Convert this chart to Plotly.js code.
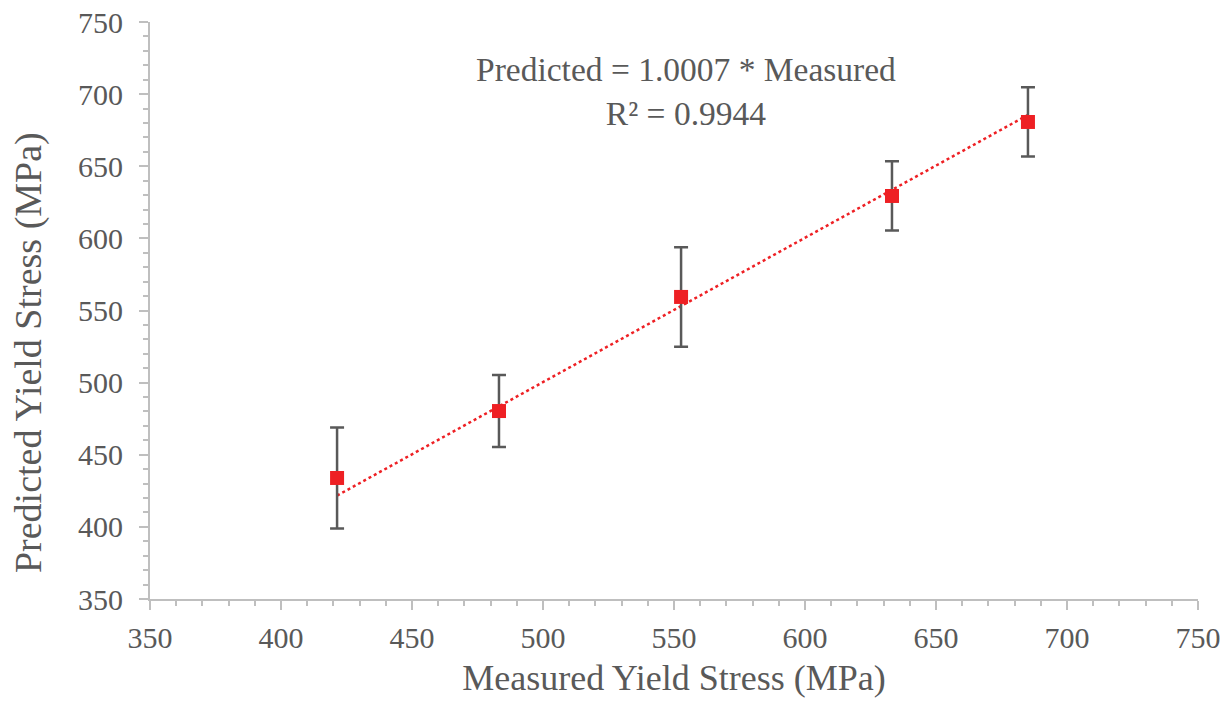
<!DOCTYPE html>
<html>
<head>
<meta charset="utf-8">
<script src="https://cdn.plot.ly/plotly-3.0.1.min.js"></script>
<style>html,body{margin:0;padding:0;background:#fff;}#chart{width:1230px;height:702px;}</style>
</head>
<body>
<div id="chart"></div>
<script>
const measured = [421.4, 483.2, 552.7, 633.2, 685.1];
const predicted = [433.9, 480.3, 559.4, 629.4, 680.7];
const errorBars = [35, 25, 34.5, 24, 24];
const slope = 1.0007;
const r2 = 0.9944;
const xTickVals = [350, 400, 450, 500, 550, 600, 650, 700, 750];
const yTickVals = [350, 400, 450, 500, 550, 600, 650, 700, 750];

const xFit = [Math.min(...measured), Math.max(...measured)];
const yFit = xFit.map(v => slope * v);

const fontFam = '"Liberation Serif", "Times New Roman", serif';
const grey = '#595959';
const axisCol = '#bfbfbf';

const traces = [
  {
    x: xFit, y: yFit, type: 'scatter', mode: 'lines',
    line: {color: '#ee2024', width: 2.5, dash: 'dot'},
    hoverinfo: 'skip', showlegend: false
  },
  {
    x: measured, y: predicted, type: 'scatter', mode: 'markers',
    marker: {symbol: 'square', size: 14, color: '#ee2024'},
    error_y: {type: 'data', array: errorBars, visible: true, color: grey, thickness: 2.5, width: 7},
    showlegend: false
  }
];

const axisCommon = {
  range: [350, 750], showgrid: false, zeroline: false,
  showline: true, linecolor: axisCol, linewidth: 2,
  ticks: 'outside', ticklen: 9, tickwidth: 2, tickcolor: axisCol,
  tickfont: {family: fontFam, size: 30, color: grey},
  minor: {dtick: 10, ticks: 'outside', ticklen: 5, tickwidth: 2, tickcolor: axisCol}
};

const layout = {
  width: 1230, height: 702,
  margin: {l: 150, r: 32, t: 22, b: 103},
  paper_bgcolor: '#fff', plot_bgcolor: '#fff',
  xaxis: Object.assign({}, axisCommon, {
    tickvals: xTickVals, ticktext: xTickVals.map(String),
    ticklabelstandoff: 2,
    title: {text: 'Measured Yield Stress (MPa)', font: {family: fontFam, size: 36, color: grey}, standoff: 12}
  }),
  yaxis: Object.assign({}, axisCommon, {
    tickvals: yTickVals, ticktext: yTickVals.map(String),
    ticklabelstandoff: 10
  }),
  annotations: [
    {
      xref: 'paper', yref: 'paper', x: 0.511, y: 0.879, xanchor: 'center', yanchor: 'middle',
      text: 'Predicted = ' + slope.toFixed(4) + ' * Measured<br>R² = ' + r2.toFixed(4),
      showarrow: false, align: 'center',
      font: {family: fontFam, size: 33.5, color: grey}
    },
    {
      xref: 'paper', yref: 'paper', x: -0.116, y: 0.427, xanchor: 'center', yanchor: 'middle',
      text: 'Predicted Yield Stress (MPa)', textangle: -90, showarrow: false,
      font: {family: fontFam, size: 38, color: grey}
    }
  ]
};

Plotly.newPlot('chart', traces, layout, {displayModeBar: false, staticPlot: true});
</script>
</body>
</html>
